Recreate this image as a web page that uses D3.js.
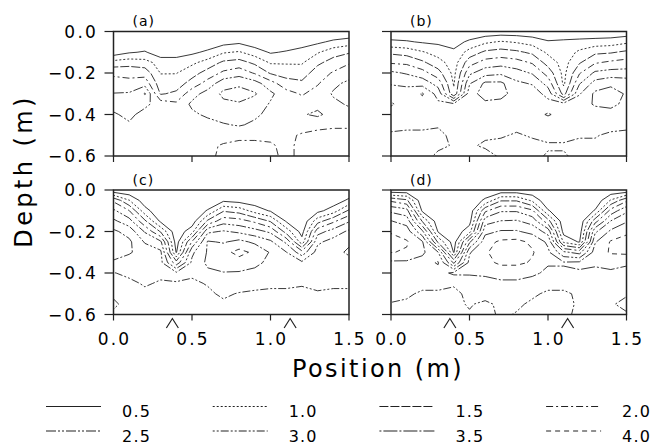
<!DOCTYPE html>
<html lang="en">
<head>
<meta charset="UTF-8">
<title>Depth contour panels</title>
<script src="https://d3js.org/d3.v7.min.js"></script>
<style>
  body { margin: 0; background: #fff; }
  svg { display: block; font-family: "DejaVu Sans", sans-serif; }
</style>
</head>
<body>
<svg id="chart" width="652" height="445"></svg>
<script>
// grid positions (m)
const xPos = [0, 0.1, 0.2, 0.3, 0.4, 0.5, 0.6, 0.7, 0.8, 0.9, 1.0, 1.1, 1.2, 1.3, 1.4, 1.5];
const depths = [0, -0.05, -0.1, -0.15, -0.2, -0.25, -0.3, -0.35, -0.4, -0.45, -0.5, -0.55, -0.6];
const levels = [0.5, 1.0, 1.5, 2.0, 2.5, 3.0, 3.5, 4.0];
const xTicks = [0, 0.5, 1.0, 1.5];
const yTicks = [0, -0.2, -0.4, -0.6];
const markers = [0.375, 1.125];
const panelNames = ["(a)", "(b)", "(c)", "(d)"];

// one column per x position, values from the surface down
const panelA = [
  [0.05, 0.1, 0.2, 1.2, 1.9, 2.2, 2.52, 2.65, 2.45, 2.3, 2.2, 2.15, 2.15],
  [0.05, 0.1, 0.45, 1.3, 1.85, 2.15, 2.55, 2.75, 2.6, 2.45, 2.3, 2.2, 2.15],
  [0.05, 0.1, 0.55, 1.2, 1.8, 2.3, 3.05, 2.6, 2.35, 2.2, 2.15, 2.1, 2.1],
  [0.05, 0.1, 0.2, 0.8, 0.98, 1.2, 1.45, 2.3, 2.25, 2.2, 2.15, 2.1, 2.1],
  [0.05, 0.1, 0.3, 0.7, 0.98, 1.25, 1.6, 2.1, 2.1, 2.1, 2.1, 2.1, 2.1],
  [0.05, 0.1, 0.4, 0.9, 1.3, 1.7, 2.3, 2.6, 2.4, 2.2, 2.15, 2.1, 2.1],
  [0.05, 0.15, 0.6, 1.2, 1.7, 2.2, 2.7, 2.8, 2.6, 2.3, 2.15, 2.1, 2.1],
  [0.05, 0.3, 0.95, 1.6, 2.1, 2.8, 3.1, 2.9, 2.75, 2.45, 2.2, 1.95, 1.9],
  [0.05, 0.4, 1.05, 1.7, 2.3, 2.9, 3.2, 2.95, 2.7, 2.55, 2.1, 1.9, 1.85],
  [0.05, 0.2, 0.75, 1.4, 1.95, 2.7, 3.05, 2.8, 2.6, 2.4, 2.1, 1.9, 1.85],
  [0.05, 0.15, 0.45, 0.95, 1.45, 2.2, 2.6, 2.45, 2.35, 2.2, 2.1, 1.95, 1.9],
  [0.05, 0.15, 0.55, 0.95, 1.3, 1.7, 2.2, 2.3, 2.2, 2.15, 2.1, 2.1, 2.1],
  [0.05, 0.25, 0.7, 0.95, 1.25, 1.6, 1.95, 2.2, 2.45, 2.2, 1.95, 1.9, 1.9],
  [0.05, 0.4, 0.95, 1.4, 1.75, 1.95, 2.2, 2.35, 2.6, 2.1, 1.9, 1.85, 1.85],
  [0.05, 0.6, 1.3, 1.7, 2.05, 2.4, 2.55, 2.4, 2.3, 2.05, 1.9, 1.85, 1.85],
  [0.05, 0.75, 1.45, 1.95, 2.3, 2.6, 2.7, 2.55, 2.35, 2.05, 1.9, 1.85, 1.85]
];
const panelB = [
  [0.1, 0.6, 1.4, 1.95, 2.6, 2.95, 3.3, 3.55, 3.3, 3.1, 2.95, 2.9, 2.9],
  [0.1, 0.55, 1.3, 1.9, 2.45, 2.9, 3.2, 3.3, 3.2, 3.05, 2.95, 2.9, 2.9],
  [0.1, 0.45, 1.05, 1.6, 2.2, 2.8, 3.55, 3.3, 3.15, 3.05, 2.95, 2.9, 2.9],
  [0.05, 0.4, 0.8, 1.2, 1.7, 2.3, 2.8, 3.1, 3.05, 3.02, 2.95, 2.95, 3.05],
  [0.05, 0.3, 0.6, 0.75, 0.85, 0.95, 1.1, 3.1, 3.2, 3.1, 3.05, 3.02, 3.05],
  [0.1, 0.6, 1.2, 1.8, 2.4, 2.95, 3.3, 3.45, 3.4, 3.2, 3.1, 3.02, 3.05],
  [0.15, 0.9, 1.6, 2.2, 2.8, 3.6, 3.7, 3.4, 3.3, 3.1, 3.02, 2.98, 3.05],
  [0.2, 1.05, 1.7, 2.3, 2.9, 3.6, 3.65, 3.35, 3.25, 3.1, 3.02, 2.95, 2.98],
  [0.2, 0.95, 1.6, 2.2, 2.7, 3.1, 3.3, 3.2, 3.15, 3.05, 2.98, 2.95, 2.95],
  [0.15, 0.8, 1.4, 1.95, 2.45, 2.95, 3.3, 3.2, 3.3, 3.1, 3.02, 2.95, 2.95],
  [0.1, 0.55, 0.9, 1.3, 1.8, 2.3, 2.8, 3.2, 3.55, 3.2, 3.05, 2.98, 3.02],
  [0.1, 0.6, 0.7, 0.8, 0.85, 0.9, 1.3, 3.2, 3.3, 3.15, 3.05, 2.98, 3.02],
  [0.1, 0.65, 1.1, 1.45, 1.95, 2.45, 2.95, 3.3, 3.2, 3.1, 3.02, 2.95, 2.95],
  [0.1, 0.7, 1.4, 1.95, 2.6, 3.2, 3.6, 3.55, 3.3, 3.1, 3.02, 2.95, 2.95],
  [0.1, 0.75, 1.45, 2.1, 2.7, 3.4, 3.7, 3.6, 3.35, 3.1, 2.95, 2.9, 2.9],
  [0.15, 0.9, 1.6, 2.2, 2.7, 3.3, 3.45, 3.4, 3.2, 3.05, 2.95, 2.9, 2.9]
];
const panelC = [
  [0.1, 1.9, 2.6, 3.1, 3.6, 3.75, 3.65, 3.45, 2.98, 2.8, 2.55, 2.45, 2.55],
  [0.05, 1.02, 2.02, 2.7, 3.3, 3.6, 3.55, 3.3, 3.1, 2.9, 2.7, 2.6, 2.6],
  [0.05, 0.2, 0.7, 1.6, 2.45, 2.95, 3.3, 3.2, 3.15, 3.05, 2.9, 2.75, 2.7],
  [0.05, 0.05, 0.1, 0.4, 1.45, 2.6, 3.1, 3.15, 3.1, 2.95, 2.85, 2.8, 2.75],
  [0.05, 0.05, 0.05, 0.1, 0.15, 0.25, 0.45, 1.7, 3.1, 2.98, 2.9, 2.85, 2.8],
  [0.05, 0.05, 0.1, 0.2, 0.8, 2.05, 2.9, 3.1, 3.05, 2.95, 2.9, 2.85, 2.8],
  [0.05, 0.1, 0.55, 1.6, 2.9, 3.55, 3.55, 3.6, 3.4, 3.02, 2.95, 2.9, 2.85],
  [0.05, 0.4, 1.45, 2.3, 3.05, 3.45, 3.85, 3.7, 3.48, 3.2, 3.05, 2.95, 2.9],
  [0.05, 0.3, 1.3, 2.2, 2.9, 3.65, 4.15, 3.8, 3.45, 3.15, 2.98, 2.95, 2.95],
  [0.05, 0.2, 0.8, 1.9, 2.7, 3.4, 3.9, 3.6, 3.4, 3.1, 2.95, 2.9, 2.9],
  [0.05, 0.1, 0.45, 1.45, 2.4, 3.1, 3.45, 3.4, 3.2, 3.05, 2.95, 2.9, 2.9],
  [0.05, 0.05, 0.15, 0.45, 1.3, 2.4, 3.02, 3.2, 3.1, 3.05, 2.95, 2.9, 2.85],
  [0.05, 0.05, 0.05, 0.1, 0.3, 0.7, 2.2, 3.1, 3.05, 3.02, 2.95, 2.9, 2.9],
  [0.05, 0.1, 0.35, 1.3, 2.3, 2.9, 3.2, 3.25, 3.15, 3.05, 2.98, 2.95, 2.95],
  [0.05, 0.2, 0.75, 1.9, 2.7, 3.2, 3.4, 3.35, 3.2, 3.05, 2.95, 2.9, 2.9],
  [0.1, 0.6, 1.6, 2.45, 3.1, 3.45, 3.55, 3.4, 3.2, 3.05, 2.95, 2.9, 2.85]
];
const panelD = [
  [0.1, 1.9, 2.9, 3.52, 3.95, 4.2, 4.02, 3.4, 3.25, 3.15, 3.1, 2.98, 2.9],
  [0.1, 1.6, 2.7, 3.3, 3.75, 4.05, 3.95, 3.4, 3.2, 3.1, 3.05, 2.95, 2.9],
  [0.05, 0.1, 0.4, 1.45, 2.6, 3.55, 3.6, 3.3, 3.2, 3.1, 2.95, 2.9, 2.85],
  [0.05, 0.05, 0.1, 0.2, 0.45, 1.4, 3.02, 3.55, 3.3, 3.1, 2.95, 2.9, 2.85],
  [0.05, 0.05, 0.05, 0.1, 0.15, 0.25, 0.45, 1.9, 3.6, 3.05, 2.9, 2.95, 2.9],
  [0.05, 0.1, 0.15, 0.3, 0.8, 2.4, 3.45, 3.65, 3.55, 3.3, 3.1, 3.02, 2.98],
  [0.1, 0.6, 1.9, 2.8, 3.35, 3.8, 3.95, 3.85, 3.6, 3.3, 3.1, 2.95, 2.9],
  [0.15, 1.45, 2.45, 3.02, 3.55, 4.1, 4.2, 4.1, 3.7, 3.4, 3.2, 3.05, 3.05],
  [0.15, 1.45, 2.45, 3.05, 3.55, 4.15, 4.3, 4.1, 3.7, 3.4, 3.15, 3.05, 2.98],
  [0.1, 0.9, 2.1, 2.8, 3.35, 3.9, 4.05, 3.95, 3.6, 3.3, 3.05, 2.95, 2.9],
  [0.05, 0.1, 0.55, 1.7, 2.8, 3.4, 3.6, 3.55, 3.4, 3.1, 2.95, 2.9, 2.85],
  [0.05, 0.05, 0.1, 0.15, 0.3, 0.9, 2.6, 3.55, 3.4, 3.1, 2.95, 2.9, 2.95],
  [0.05, 0.05, 0.05, 0.1, 0.2, 0.45, 2.3, 3.6, 3.45, 3.2, 3.05, 3.05, 3.05],
  [0.05, 0.1, 0.55, 1.8, 2.9, 3.45, 3.75, 3.6, 3.35, 3.15, 3.05, 3.05, 3.1],
  [0.1, 1.05, 2.2, 3.02, 3.6, 4.05, 4.05, 3.7, 3.4, 3.15, 3.05, 3.02, 3.05],
  [0.1, 1.9, 2.9, 3.45, 3.9, 4.2, 4.1, 3.6, 3.3, 3.1, 3.02, 2.95, 3.02]
];

// line pattern for each contour level, in legend order
const dashes = ["none", "2,2", "9,2", "7,3,2,3", "10,2,2,2,2,2", "2,2,2,2,8,2", "2,2,14,2", "5,4"];

const svg = d3.select("#chart");
const W = 235.5, H = 124.5;
const panels = [
  { data: panelA, x0: 113.5, y0: 31.5, left: true, bottom: false },
  { data: panelB, x0: 391, y0: 31.5, left: false, bottom: false },
  { data: panelC, x0: 113.5, y0: 190, left: true, bottom: true },
  { data: panelD, x0: 391, y0: 190, left: false, bottom: true }
];
const fmt = d3.format(".1f");
const ink = "#222";

panels.forEach((p, k) => {
  const xs = d3.scaleLinear().domain([0, 1.5]).range([p.x0, p.x0 + W]);
  const ys = d3.scaleLinear().domain([0, -0.6]).range([p.y0, p.y0 + H]);
  const g = svg.append("g");

  // grid for d3.contours, row-major
  const n = xPos.length, m = depths.length;
  const values = new Array(n * m);
  for (let j = 0; j < m; j++)
    for (let i = 0; i < n; i++) values[j * n + i] = p.data[i][j];

  const dx = xPos[1] - xPos[0], dy = depths[1] - depths[0];
  const proj = d3.geoTransform({
    point(u, v) {
      this.stream.point(xs(xPos[0] + (u - 0.5) * dx), ys(depths[0] + (v - 0.5) * dy));
    }
  });
  const path = d3.geoPath(proj);
  const contours = d3.contours().size([n, m]).thresholds(levels)(values);

  svg.append("clipPath").attr("id", "clip" + k)
    .append("rect").attr("x", p.x0).attr("y", p.y0).attr("width", W).attr("height", H);

  g.append("g").attr("clip-path", `url(#clip${k})`)
    .selectAll("path")
    .data(contours)
    .join("path")
    .attr("d", path)
    .attr("fill", "none")
    .attr("stroke", ink)
    .attr("stroke-width", 0.9)
    .attr("stroke-dasharray", d => dashes[levels.indexOf(d.value)]);

  // frame
  g.append("rect")
    .attr("x", p.x0).attr("y", p.y0).attr("width", W).attr("height", H)
    .attr("fill", "none").attr("stroke", ink).attr("stroke-width", 1.5);

  // y ticks
  g.selectAll(".yt").data(yTicks).join("line")
    .attr("x1", p.x0 - 9).attr("x2", p.x0)
    .attr("y1", d => ys(d)).attr("y2", d => ys(d))
    .attr("stroke", ink).attr("stroke-width", 1.2);
  if (p.left) {
    g.selectAll(".yl").data(yTicks).join("text")
      .attr("x", 98).attr("y", d => ys(d)).attr("dy", "0.36em")
      .attr("text-anchor", "end")
      .style("font-size", "17px").style("letter-spacing", "2.2px")
      .text(d => fmt(d));
  }

  // x ticks
  g.selectAll(".xt").data(xTicks).join("line")
    .attr("x1", d => xs(d)).attr("x2", d => xs(d))
    .attr("y1", p.y0 + H).attr("y2", p.y0 + H + 6)
    .attr("stroke", ink).attr("stroke-width", 1.2);
  if (p.bottom) {
    g.selectAll(".xl").data(xTicks).join("text")
      .attr("x", d => xs(d) + 1).attr("y", 345)
      .attr("text-anchor", "middle")
      .style("font-size", "17px").style("letter-spacing", "2.2px")
      .text(d => fmt(d));
    g.selectAll(".mk").data(markers).join("path")
      .attr("d", d => `M${xs(d) - 6},328 L${xs(d)},318.5 L${xs(d) + 6},328`)
      .attr("fill", "none").attr("stroke", ink).attr("stroke-width", 1.2);
  }

  g.append("text")
    .attr("x", p.x0 + 19).attr("y", p.y0 - 5.5)
    .style("font-size", "14px").style("letter-spacing", "1px")
    .text(panelNames[k]);
});

// axis titles
svg.append("text")
  .attr("x", 378).attr("y", 377).attr("text-anchor", "middle")
  .style("font-size", "24px").style("letter-spacing", "2.4px")
  .text("Position (m)");
svg.append("text")
  .attr("transform", "translate(32,171) rotate(-90)").attr("text-anchor", "middle")
  .style("font-size", "24px").style("letter-spacing", "3.4px")
  .text("Depth (m)");

// legend
const leg = svg.append("g");
levels.forEach((lv, i) => {
  const lx = 46 + (i % 4) * 166.7;
  const ly = 406.5 + Math.floor(i / 4) * 24.5;
  leg.append("line")
    .attr("x1", lx).attr("x2", lx + 55).attr("y1", ly).attr("y2", ly)
    .attr("stroke", ink).attr("stroke-width", 1.2)
    .attr("stroke-dasharray", dashes[i]);
  leg.append("text")
    .attr("x", lx + 76).attr("y", ly + 10.5)
    .style("font-size", "16px").style("letter-spacing", "1.2px")
    .text(fmt(lv));
});
</script>
</body>
</html>
